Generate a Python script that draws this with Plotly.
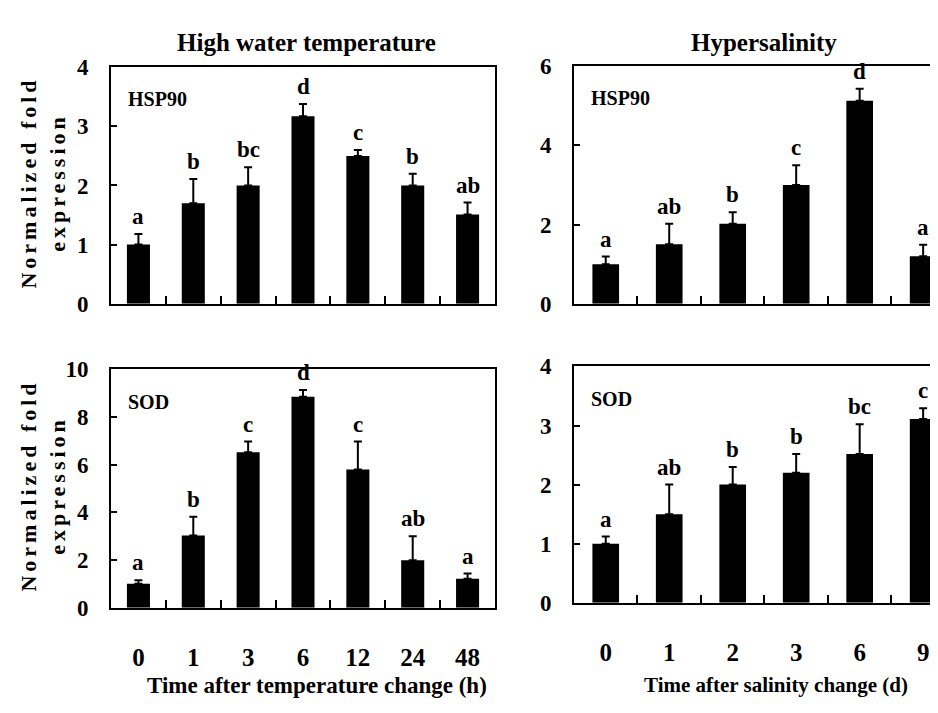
import plotly.graph_objects as go

# ---------------- data ----------------
temp_times = ["0", "1", "3", "6", "12", "24", "48"]
sal_times = ["0", "1", "2", "3", "6", "9"]

hsp_temp = [1.0, 1.70, 2.0, 3.17, 2.5, 2.0, 1.51]
hsp_temp_err = [0.18, 0.41, 0.31, 0.21, 0.10, 0.20, 0.20]
hsp_temp_sig = ["a", "b", "bc", "d", "c", "b", "ab"]

hsp_sal = [1.0, 1.5, 2.02, 3.0, 5.13, 1.2]
hsp_sal_err = [0.19, 0.52, 0.29, 0.5, 0.30, 0.29]
hsp_sal_sig = ["a", "ab", "b", "c", "d", "a"]

sod_temp = [1.0, 3.03, 6.52, 8.85, 5.80, 1.99, 1.21]
sod_temp_err = [0.15, 0.78, 0.45, 0.28, 1.17, 1.01, 0.22]
sod_temp_sig = ["a", "b", "c", "d", "c", "ab", "a"]

sod_sal = [1.0, 1.5, 2.0, 2.2, 2.52, 3.11]
sod_sal_err = [0.12, 0.5, 0.3, 0.32, 0.5, 0.18]
sod_sal_sig = ["a", "ab", "b", "b", "bc", "c"]

panel_titles = ["High water temperature", "Hypersalinity"]
gene_labels = ["HSP90", "HSP90", "SOD", "SOD"]
x_titles = ["Time after temperature change (h)", "Time after salinity change (d)"]
y_title_lines = ["Normalized fold", "expression"]

# ---------------- layout geometry ----------------
W, H = 938, 713
FONT = "Liberation Serif"


def px_x(v):
    return v / W


def px_y(v):
    return 1 - v / H


fig = go.Figure()

panels = [
    # (categories, values, errors, letters, xaxis id, yaxis id, left, right, top, bottom, ymax, dtick, full box, xrange)
    (temp_times, hsp_temp, hsp_temp_err, hsp_temp_sig, "x", "y", 103, 487, 49, 294, 4, 1, True, [-0.5, 6.5]),
    (sal_times, hsp_sal, hsp_sal_err, hsp_sal_sig, "x2", "y2", 566, 938, 48, 294, 6, 2, False, [-0.5, 5.36]),
    (temp_times, sod_temp, sod_temp_err, sod_temp_sig, "x3", "y3", 103, 487, 362, 609, 10, 2, True, [-0.5, 6.5]),
    (sal_times, sod_sal, sod_sal_err, sod_sal_sig, "x4", "y4", 566, 938, 359, 604, 4, 1, False, [-0.5, 5.36]),
]

annotations = []
for i, (cats, vals, errs, sig, xa, ya, l, r, t, b, ymax, dt, box, xr) in enumerate(panels):
    fig.add_trace(go.Bar(
        x=cats, y=vals, xaxis=xa, yaxis=ya,
        marker=dict(color="black", line=dict(width=0)),
        error_y=dict(type="data", symmetric=False, array=errs,
                     arrayminus=[0] * len(errs), color="black",
                     thickness=2, width=4),
        showlegend=False,
    ))
    for j, (v, e, s) in enumerate(zip(vals, errs, sig)):
        annotations.append(dict(
            x=j, y=v + e, xref=xa, yref=ya, text=s, showarrow=False,
            xanchor="center", yanchor="bottom", yshift=3,
            font=dict(family=FONT, size=23, color="black", weight="bold"),
        ))
    xkey = "xaxis" if xa == "x" else "xaxis" + xa[1:]
    ykey = "yaxis" if ya == "y" else "yaxis" + ya[1:]
    bottom_row = i >= 2
    xaxis = dict(
        domain=[px_x(l), px_x(r)], anchor=ya, type="category",
        range=xr, autorange=False,
        showline=True, linecolor="black", linewidth=2, mirror=True,
        ticks="inside", tickson="boundaries", ticklen=8, tickwidth=2,
        tickcolor="black", showgrid=False, zeroline=False,
        showticklabels=bottom_row, ticklabelstandoff=26, tickangle=0,
        tickfont=dict(family=FONT, size=25, color="black", weight="bold"),
        categoryorder="array", categoryarray=cats,
    )
    yaxis = dict(
        domain=[px_y(b), px_y(t)], anchor=xa, range=[0, ymax], dtick=dt,
        autorange=False,
        showline=True, linecolor="black", linewidth=2, mirror=box,
        ticks="inside", ticklen=6, tickwidth=2, tickcolor="black",
        showgrid=False, zeroline=False, ticklabelstandoff=16,
        tickfont=dict(family=FONT, size=23, color="black", weight="bold"),
    )
    fig.update_layout(**{xkey: xaxis, ykey: yaxis})

    # gene label
    annotations.append(dict(
        x=px_x(l + 15), y=px_y(t + 33 if i < 2 else t + 34), xref="paper", yref="paper",
        text=gene_labels[i], showarrow=False, xanchor="left", yanchor="middle",
        font=dict(family=FONT, size=20, color="black", weight="bold"),
    ))

    # y titles (left panels only)
    if box:
        mid = (t + b) / 2
        annotations.append(dict(
            x=px_x(35), y=px_y(mid - 3), xref="paper", yref="paper",
            text='<span style="letter-spacing:4px">' + y_title_lines[0]
                 + '</span><br><span style="letter-spacing:4px">'
                 + y_title_lines[1] + '</span>',
            showarrow=False, textangle=-90, xanchor="center", yanchor="middle",
            font=dict(family=FONT, size=22, color="black", weight="bold"),
        ))

# panel titles
annotations.append(dict(x=px_x(298), y=px_y(23), xref="paper", yref="paper",
                        text=panel_titles[0], showarrow=False,
                        xanchor="center", yanchor="middle",
                        font=dict(family=FONT, size=25, color="black", weight="bold")))
annotations.append(dict(x=px_x(756), y=px_y(23), xref="paper", yref="paper",
                        text=panel_titles[1], showarrow=False,
                        xanchor="center", yanchor="middle",
                        font=dict(family=FONT, size=25, color="black", weight="bold")))
# x titles
annotations.append(dict(x=px_x(309), y=px_y(690), xref="paper", yref="paper",
                        text=x_titles[0], showarrow=False,
                        xanchor="center", yanchor="middle",
                        font=dict(family=FONT, size=23, color="black", weight="bold")))
annotations.append(dict(x=px_x(768), y=px_y(689), xref="paper", yref="paper",
                        text=x_titles[1], showarrow=False,
                        xanchor="center", yanchor="middle",
                        font=dict(family=FONT, size=21, color="black", weight="bold")))

fig.update_layout(
    width=W, height=H, margin=dict(l=0, r=0, t=0, b=0),
    paper_bgcolor="white", plot_bgcolor="white",
    bargap=0.58, annotations=annotations,
    font=dict(family=FONT, color="black"),
)

fig.write_html("out.html")
